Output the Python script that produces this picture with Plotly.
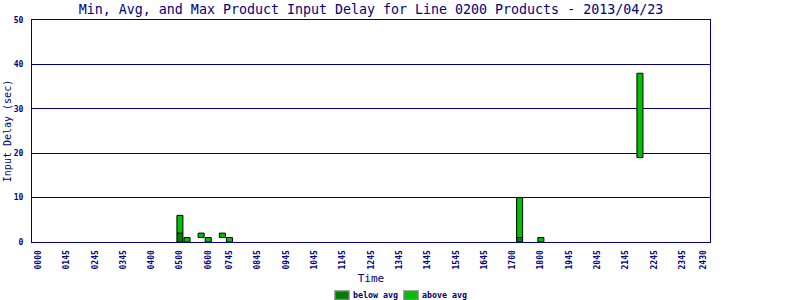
import plotly.graph_objects as go

# --- data -------------------------------------------------------------
tick_pos = [0, 4, 8, 12, 16, 20, 24, 27, 31, 35, 39, 43, 47, 51, 55, 59,
            63, 67, 71, 75, 79, 83, 87, 91, 94]
tick_labels = ["0000", "0145", "0245", "0345", "0400", "0500", "0600", "0745",
               "0845", "0945", "1045", "1145", "1245", "1345", "1445", "1545",
               "1645", "1700", "1800", "1945", "2045", "2145", "2245", "2345",
               "2430"]

bar_slot = [20, 21, 23, 24, 26, 27, 68, 71, 85]
min_delay = [0, 0, 1, 0, 1, 0, 0, 0, 19]
avg_delay = [2, 0, 1, 0, 1, 0, 1, 0, 19]
max_delay = [6, 1, 2, 1, 2, 1, 10, 1, 38]

y_ticks = [0, 10, 20, 30, 40, 50]
legend_names = ["below avg", "above avg"]

# --- style ------------------------------------------------------------
NAVY = "#000080"
DARK = "#008000"
LIGHT = "#00C000"
FONT = "DejaVu Sans Mono"
L, R, T, B = 32, 90, 20, 58
PW, PH = 800 - L - R, 300 - T - B


def px(x):
    return (x - L) / PW


def py(y):
    return (300 - B - y) / PH


below_h = [a - m if a - m > 0 else None for m, a in zip(min_delay, avg_delay)]
above_h = [x - a if x - a > 0 else None for a, x in zip(avg_delay, max_delay)]

fig = go.Figure()
fig.add_trace(go.Bar(x=bar_slot, y=below_h, base=min_delay, width=0.85,
                     name=legend_names[0],
                     marker=dict(color=DARK, line=dict(color="black", width=1)),
                     showlegend=False, hoverinfo="skip"))
fig.add_trace(go.Bar(x=bar_slot, y=above_h, base=avg_delay, width=0.85,
                     name=legend_names[1],
                     marker=dict(color=LIGHT, line=dict(color="black", width=1)),
                     showlegend=False, hoverinfo="skip"))

# legend (swatch + label), placed below the axis title
legend_x = [335, 404]
for name, col, x0 in zip(legend_names, [DARK, LIGHT], legend_x):
    fig.add_shape(type="rect", xref="paper", yref="paper",
                  x0=px(x0), x1=px(x0 + 14), y0=py(299.5), y1=py(291),
                  fillcolor=col, line=dict(color="#808080", width=1.5))
    fig.add_annotation(text=name, xref="paper", yref="paper",
                       x=px(x0 + 16), y=py(295), xanchor="left", yanchor="middle",
                       showarrow=False,
                       font=dict(family=FONT, size=8.3, color=NAVY, weight="bold"))

fig.update_layout(
    width=800, height=300,
    margin=dict(l=L, r=R, t=T, b=B, autoexpand=False),
    paper_bgcolor="white", plot_bgcolor="white",
    barmode="overlay", showlegend=False,
    title=dict(text="Min, Avg, and Max Product Input Delay for Line 0200 Products - 2013/04/23",
               font=dict(family=FONT, size=13.3, color=NAVY),
               x=371 / 800, xanchor="center", xref="container",
               y=1 - 9 / 300, yanchor="middle", yref="container"),
    xaxis=dict(range=[-0.9, 94.9], tickmode="array", tickvals=tick_pos,
               ticktext=tick_labels, tickangle=-90, automargin=False,
               tickfont=dict(family=FONT, size=8, color=NAVY, weight="bold"),
               ticks="outside", ticklen=4, tickcolor="rgba(0,0,0,0)",
               showgrid=False, zeroline=False,
               showline=True, linecolor=NAVY, linewidth=1, mirror=True,
               title=dict(text="Time", font=dict(family=FONT, size=11, color=NAVY),
                          standoff=5)),
    yaxis=dict(range=[0, 50], tickmode="array", tickvals=y_ticks, automargin=False,
               tickfont=dict(family=FONT, size=8, color=NAVY, weight="bold"),
               ticks="outside", ticklen=6, tickcolor="rgba(0,0,0,0)",
               showgrid=True, gridcolor=NAVY, gridwidth=1, zeroline=False,
               showline=True, linecolor=NAVY, linewidth=1, mirror=True,
               title=dict(text="Input Delay (sec)",
                          font=dict(family=FONT, size=10, color=NAVY), standoff=0)),
)

fig.write_html("out.html")
